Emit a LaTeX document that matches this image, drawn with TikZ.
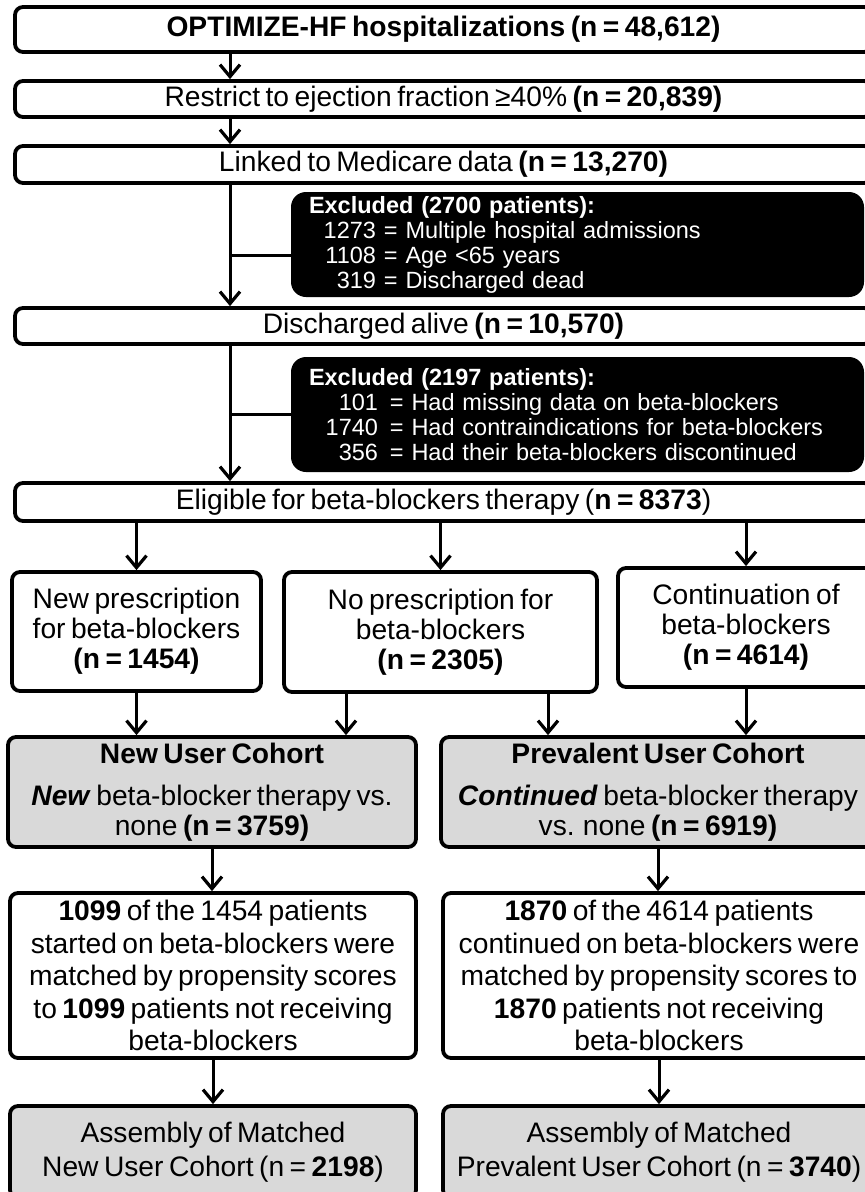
\documentclass[tikz,border=0pt]{standalone}
\usepackage{fontspec}
\setmainfont[WordSpace=0.7]{Liberation Sans}
\usetikzlibrary{arrows.meta}
\definecolor{boxgray}{HTML}{D9D9D9}
\begin{document}
\begin{tikzpicture}[x=1pt,y=-1pt,
  box/.style={draw, line width=3.8pt, rounded corners=8pt, inner sep=0pt, align=center,
              font=\fontsize{28.2}{30}\selectfont},
  graybox/.style={box, fill=boxgray},
  blk/.style={fill=black, rounded corners=15pt, text=white, inner sep=0pt, align=left,
              font=\fontsize{23.5}{25}\selectfont},
  arr/.style={line width=3pt, -{Straight Barb[length=12pt,width=20pt,line width=3.2pt]}},
  ln/.style={line width=3pt}]
\useasboundingbox (0,0) rectangle (865,1192);
\clip (0,0) rectangle (865,1192);
\fill[white] (0,0) rectangle (865,1192);

% spine coordinates
\coordinate (sp) at (230,0);
\coordinate (pb1) at (346,0);
\coordinate (pb2) at (548,0);
\coordinate (j1) at (230,255);
\coordinate (j2) at (230,414);

% top chain
\node[box, minimum width=857pt, minimum height=45pt] (b1) at (443.5,29.5)
  {\textbf{OPTIMIZE-HF hospitalizations (n = 48,612)}};
\node[box, minimum width=857pt, minimum height=36pt] (b2) at (443.5,99)
  {Restrict to ejection fraction ≥40\% \textbf{(n = 20,839)}};
\node[box, minimum width=857pt, minimum height=37pt] (b3) at (443.5,164.5)
  {Linked to Medicare data \textbf{(n = 13,270)}};
\node[box, minimum width=857pt, minimum height=36pt] (b4) at (443.5,326)
  {Discharged alive \textbf{(n = 10,570)}};
\node[box, minimum width=857pt, minimum height=38pt] (b5) at (443.5,502)
  {Eligible for beta-blockers therapy (\textbf{n = 8373})};

% exclusion boxes
\node[blk, minimum width=573pt, minimum height=105pt, text width=537pt] (x1) at (577.5,244.5)
  {\textbf{Excluded (2700 patients):}\\
   \makebox[67pt][r]{1273}\hspace{8pt}= Multiple hospital admissions\\
   \makebox[67pt][r]{1108}\hspace{8pt}= Age <65 years\\
   \makebox[67pt][r]{319}\hspace{8pt}= Discharged dead};
\node[blk, minimum width=573pt, minimum height=115pt, text width=537pt] (x2) at (577.5,414.5)
  {\textbf{Excluded (2197 patients):}\\
   \makebox[69pt][r]{101}\hspace{12pt}= Had missing data on beta-blockers\\
   \makebox[69pt][r]{1740}\hspace{12pt}= Had contraindications for beta-blockers\\
   \makebox[69pt][r]{356}\hspace{12pt}= Had their beta-blockers discontinued};

% three groups
\node[box, minimum width=249pt, minimum height=119pt] (ga) at (136.5,631.5)
  {New prescription\\ for beta-blockers\\ \textbf{(n = 1454)}};
\node[box, minimum width=313pt, minimum height=120pt] (gb) at (440.5,632)
  {No prescription for\\ beta-blockers\\ \textbf{(n = 2305)}};
\node[box, minimum width=256pt, minimum height=119pt] (gc) at (746,627.5)
  {Continuation of\\ beta-blockers\\ \textbf{(n = 4614)}};

% cohorts
\node[graybox, minimum width=408pt, minimum height=110pt] (cl) at (212,792)
  {\textbf{New User Cohort}\\[12pt]
   \textbf{\textit{New}} beta-blocker therapy vs.\\ none \textbf{(n = 3759)}};
\node[graybox, minimum width=434pt, minimum height=110pt] (cr) at (658,792)
  {\textbf{Prevalent User Cohort}\\[12pt]
   \textbf{\textit{Continued}} beta-blocker therapy\\ vs. none \textbf{(n = 6919)}};

% matching
\node[box, minimum width=406pt, minimum height=165pt, font=\fontsize{28.2}{32.5}\selectfont] (ml) at (213,975.5)
  {\textbf{1099} of the 1454 patients\\ started on beta-blockers were\\ matched by propensity scores\\
   to \textbf{1099} patients not receiving\\ beta-blockers};
\node[box, minimum width=432pt, minimum height=165pt, font=\fontsize{28.2}{32.5}\selectfont] (mr) at (659,975.5)
  {\textbf{1870} of the 4614 patients\\ continued on beta-blockers were\\ matched by propensity scores to\\
   \textbf{1870} patients not receiving\\ beta-blockers};

% final
\node[graybox, minimum width=406pt, minimum height=92pt, font=\fontsize{28.2}{34}\selectfont] (fl) at (213,1152)
  {Assembly of Matched\\ New User Cohort (n = \textbf{2198})};
\node[graybox, minimum width=432pt, minimum height=92pt, font=\fontsize{28.2}{34}\selectfont] (fr) at (659,1152)
  {Assembly of Matched\\ Prevalent User Cohort (n = \textbf{3740})};

% connectors
\draw[arr] (b1.south -| sp) -- (b2.north -| sp);
\draw[arr] (b2.south -| sp) -- (b3.north -| sp);
\draw[arr] (b3.south -| sp) -- (b4.north -| sp);
\draw[ln] (j1) -- (j1 -| x1.west);
\draw[arr] (b4.south -| sp) -- (b5.north -| sp);
\draw[ln] (j2) -- (j2 -| x2.west);

\draw[arr] (b5.south -| ga.north) -- (ga.north);
\draw[arr] (b5.south -| gb.north) -- (gb.north);
\draw[arr] (b5.south -| gc.north) -- (gc.north);

\draw[arr] (ga.south) -- (ga.south |- cl.north);
\draw[arr] (gb.south -| pb1) -- (cl.north -| pb1);
\draw[arr] (gb.south -| pb2) -- (cr.north -| pb2);
\draw[arr] (gc.south) -- (gc.south |- cr.north);

\draw[arr] (cl.south) -- (cl.south |- ml.north);
\draw[arr] (cr.south) -- (cr.south |- mr.north);
\draw[arr] (ml.south) -- (ml.south |- fl.north);
\draw[arr] (mr.south) -- (mr.south |- fr.north);
\end{tikzpicture}
\end{document}
